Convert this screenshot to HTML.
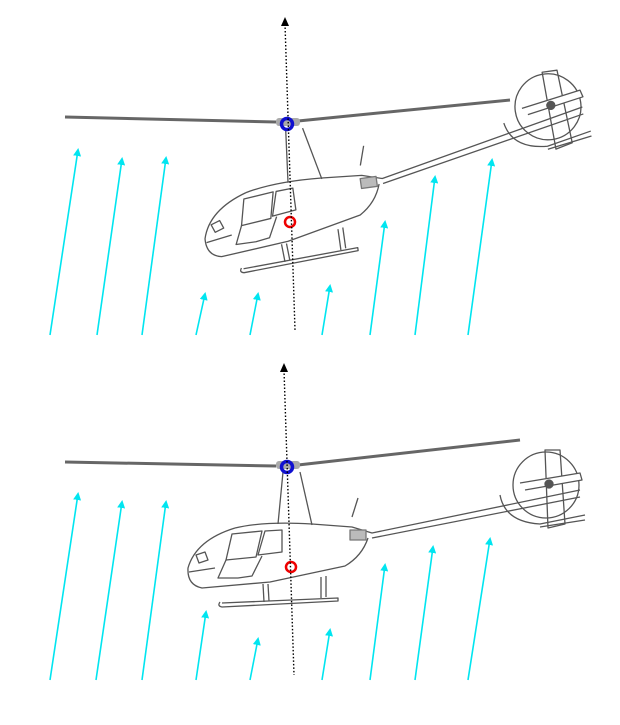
<!DOCTYPE html>
<html><head><style>html,body{margin:0;padding:0;background:#fff}svg{display:block}</style></head>
<body>
<svg width="620" height="725" viewBox="0 0 620 725" xmlns="http://www.w3.org/2000/svg">
<defs>
<marker id="c" markerWidth="8" markerHeight="8" refX="6" refY="4" orient="auto" markerUnits="userSpaceOnUse"><path d="M0,0 L8,4 L0,8 Z" fill="#00e5f0"/></marker>
<g id="heli" fill="none" stroke="#555" stroke-width="1.3" stroke-linejoin="round">
  <line x1="283" y1="472" x2="278" y2="524"/>
  <line x1="300" y1="472" x2="312" y2="525"/>
  <path d="M235,528 Q265,521 312,524 L352,527 L372,533 L580,490"/>
  <path d="M235,528 Q196,540 188,568 Q187,585 202,588 L270,582 L345,566 Q362,556 368,538"/>
  <path d="M372,538 L580,497"/>
  <path d="M232,534 L262,531 L256,557 L226,560 Z"/>
  <path d="M265,531 L282,530 L282,552 L258,555 Z"/>
  <path d="M226,560 L218,578 L238,578 L252,576 L262,556"/>
  <path d="M196,555 L205,552 L208,560 L199,563 Z"/>
  <line x1="189" y1="572" x2="215" y2="568"/>
  <line x1="263" y1="584" x2="264" y2="602"/>
  <line x1="268" y1="584" x2="269" y2="601"/>
  <line x1="321" y1="577" x2="321" y2="598"/>
  <line x1="326" y1="576" x2="326" y2="597"/>
  <path d="M220,602 Q217,606 222,607 L338,601 L338,598 L222,603"/>
  <line x1="352" y1="517" x2="358" y2="498"/>
  <rect x="350" y="530" width="16" height="10" fill="#bbb" stroke="#777"/>
  <circle cx="546" cy="485" r="33"/>
  <path d="M545,450 L560,450 L565,524 L548,528 Z"/>
  <path d="M500,495 Q505,522 540,524 L585,515"/>
  <line x1="540" y1="527" x2="585" y2="520"/>
  <path d="M520,483 L580,473 L582,480 L525,490" fill="#fff"/>
  <circle cx="549" cy="484" r="4" fill="#555"/>
</g>
</defs>

<line x1="65" y1="462" x2="276" y2="466" stroke="#666" stroke-width="3"/>
<line x1="298" y1="465" x2="520" y2="440" stroke="#666" stroke-width="3"/>
<use href="#heli"/>
<rect x="276" y="461" width="24" height="8" rx="3" fill="#aaa"/>
<circle cx="287" cy="467" r="5.5" fill="none" stroke="#1010d0" stroke-width="3.5"/>
<circle cx="291" cy="567" r="5" fill="none" stroke="#e00" stroke-width="2.5"/>

<line x1="65" y1="117" x2="276" y2="122" stroke="#666" stroke-width="3"/>
<line x1="298" y1="121" x2="510" y2="100" stroke="#666" stroke-width="3"/>
<use href="#heli" transform="translate(2,-342) rotate(-8 287 467)"/>
<rect x="276" y="118" width="24" height="8" rx="3" fill="#aaa"/>
<circle cx="287" cy="124" r="5.5" fill="none" stroke="#1010d0" stroke-width="3.5"/>
<circle cx="290" cy="222" r="5" fill="none" stroke="#e00" stroke-width="2.5"/>

<line x1="285" y1="24" x2="295" y2="330" stroke="#000" stroke-width="1.4" stroke-dasharray="1.5,2"/>
<path d="M281,26 L285,17 L289,26 Z" fill="#000"/>
<line x1="284" y1="370" x2="294" y2="675" stroke="#000" stroke-width="1.4" stroke-dasharray="1.5,2"/>
<path d="M280,372 L284,363 L288,372 Z" fill="#000"/>

<g stroke="#00e5f0" stroke-width="1.6" marker-end="url(#c)">
<line x1="50" y1="335" x2="78" y2="150"/>
<line x1="97" y1="335" x2="122" y2="159"/>
<line x1="142" y1="335" x2="166" y2="158"/>
<line x1="196" y1="335" x2="205" y2="294"/>
<line x1="250" y1="335" x2="258" y2="294"/>
<line x1="322" y1="335" x2="330" y2="286"/>
<line x1="370" y1="335" x2="385" y2="222"/>
<line x1="415" y1="335" x2="435" y2="177"/>
<line x1="468" y1="335" x2="492" y2="160"/>
<line x1="50" y1="680" x2="78" y2="494"/>
<line x1="96" y1="680" x2="122" y2="502"/>
<line x1="142" y1="680" x2="166" y2="502"/>
<line x1="196" y1="680" x2="206" y2="612"/>
<line x1="250" y1="680" x2="258" y2="639"/>
<line x1="322" y1="680" x2="330" y2="630"/>
<line x1="370" y1="680" x2="385" y2="565"/>
<line x1="415" y1="680" x2="433" y2="547"/>
<line x1="468" y1="680" x2="490" y2="539"/>
</g>
</svg>
</body></html>
